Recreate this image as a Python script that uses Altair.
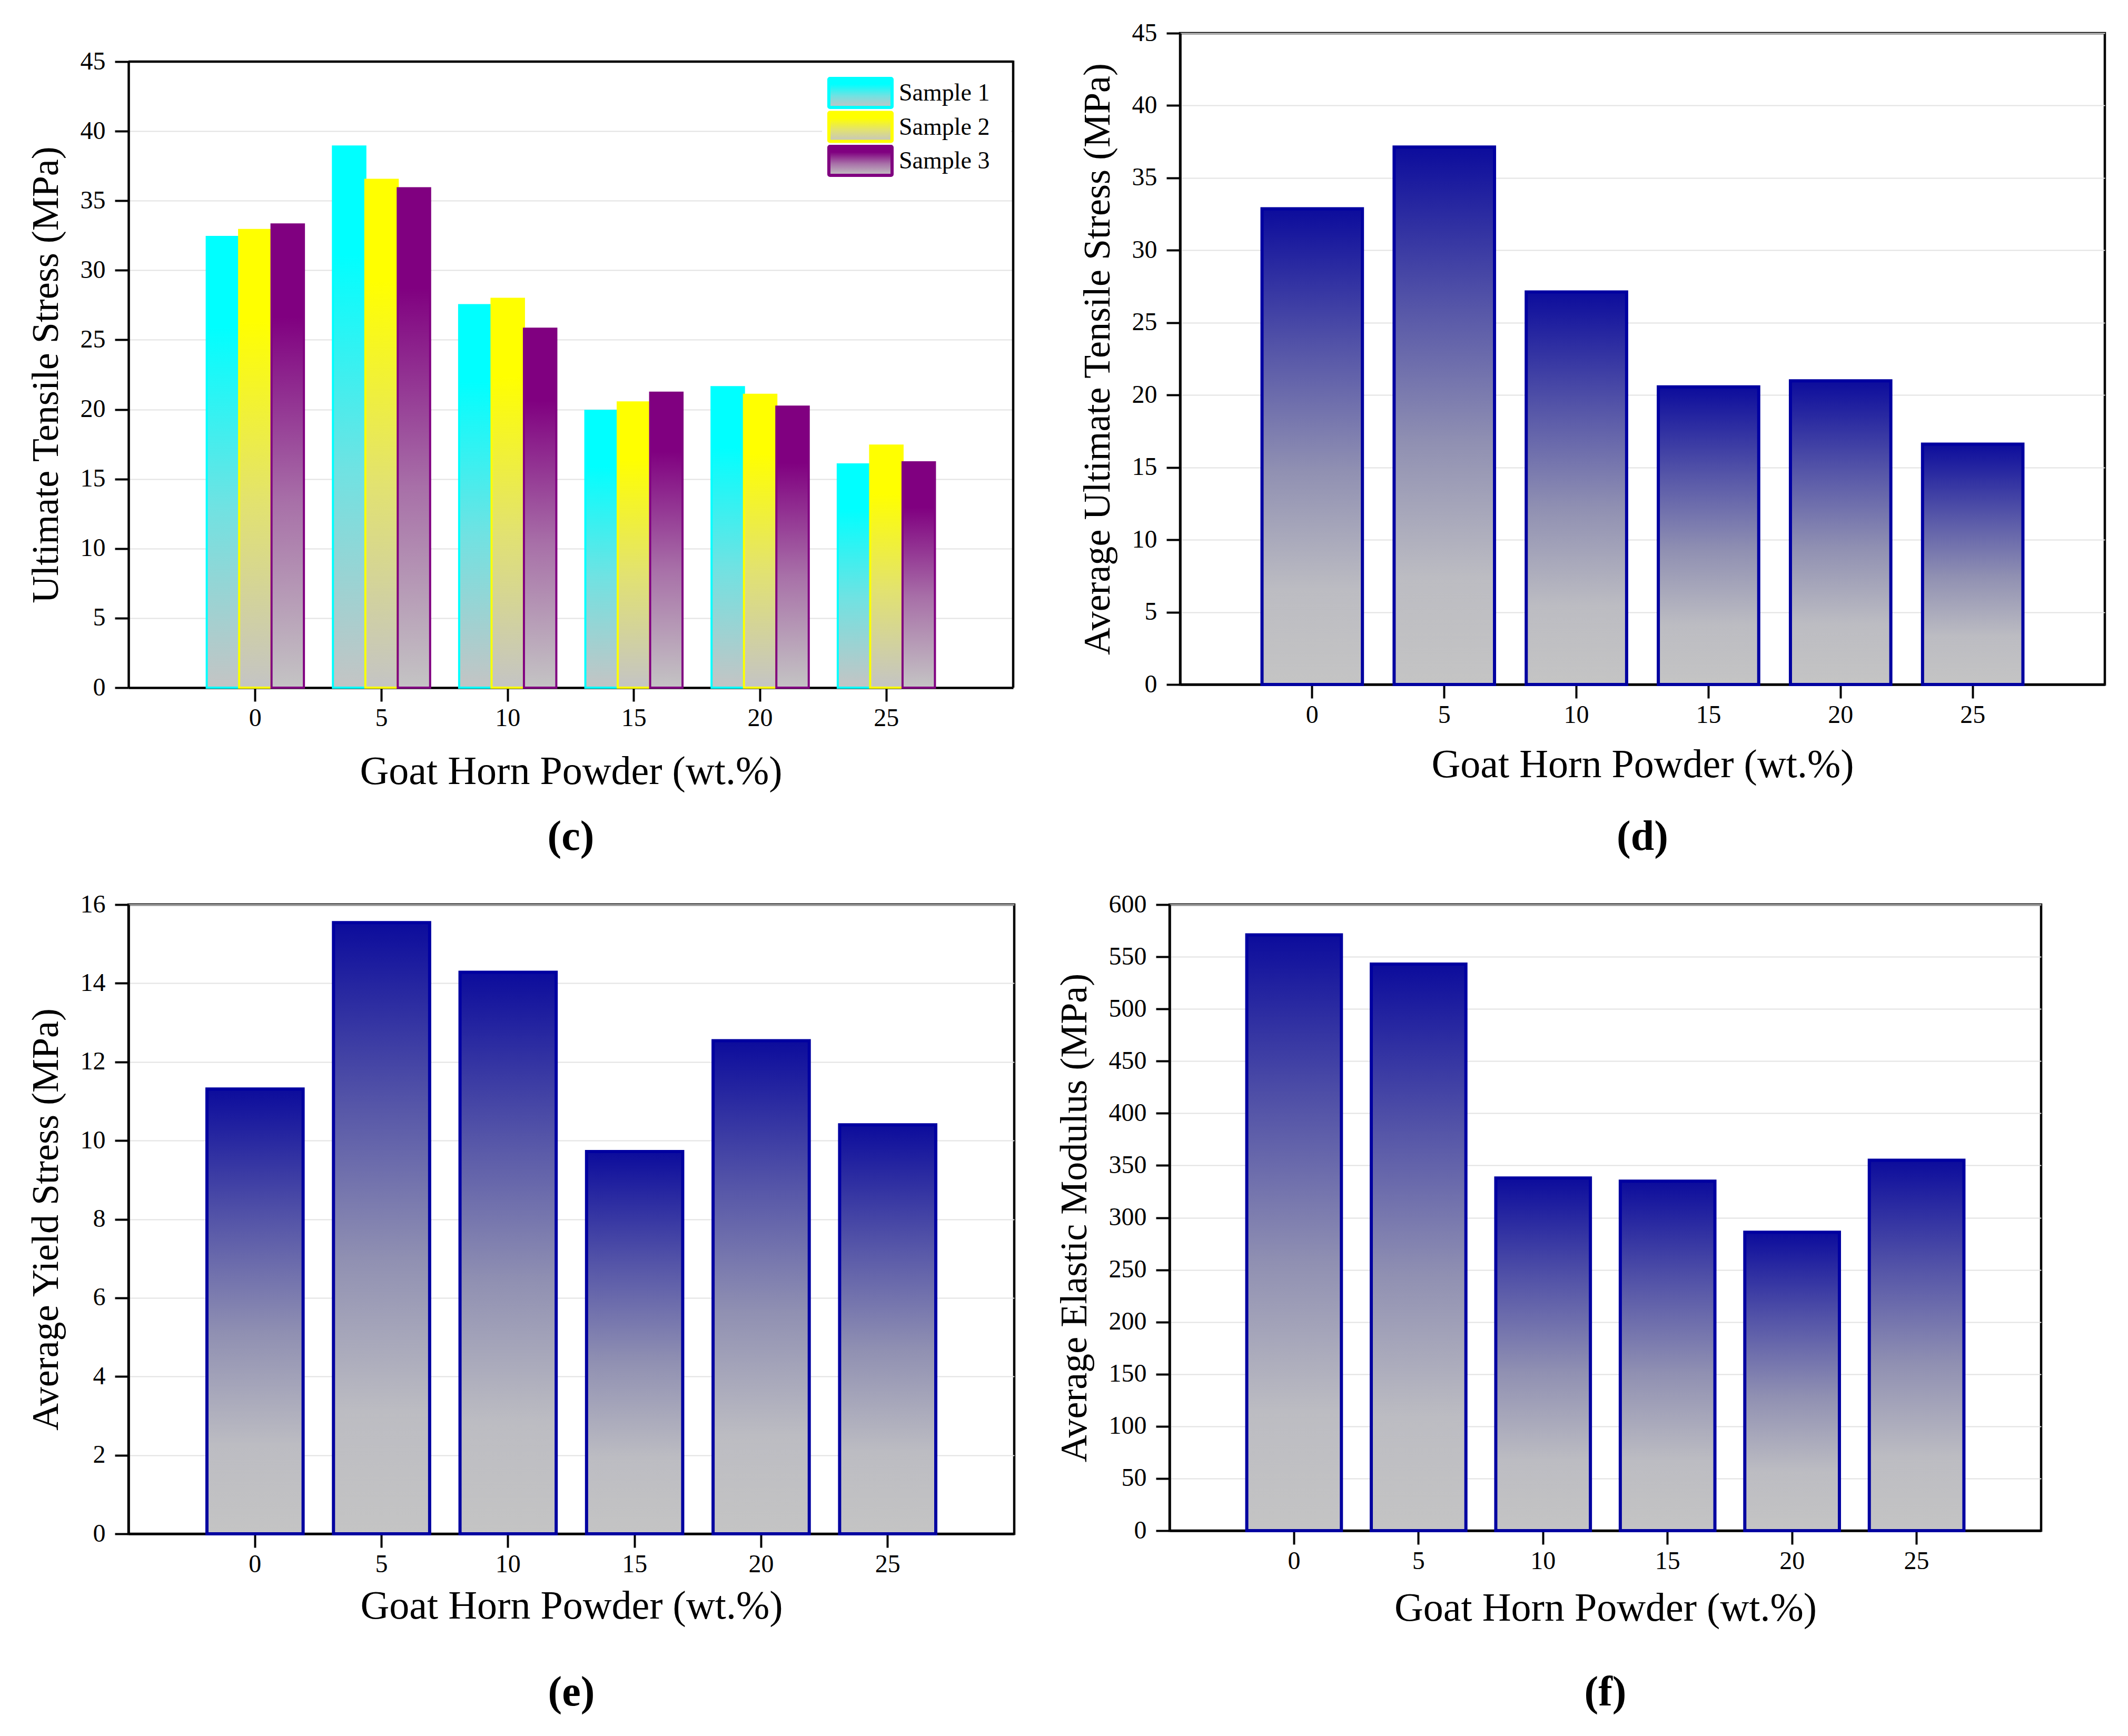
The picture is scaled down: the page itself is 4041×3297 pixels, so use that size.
import altair as alt
import pandas as pd

# ---------------- data ----------------
wt_levels = [0, 5, 10, 15, 20, 25]
sample_names = ["Sample 1", "Sample 2", "Sample 3"]
sample1_uts = [32.4, 38.9, 27.5, 19.9, 21.6, 16.05]
sample2_uts = [32.9, 36.5, 27.95, 20.5, 21.05, 17.4]
sample3_uts = [33.3, 35.9, 25.8, 21.2, 20.2, 16.2]
avg_uts = [32.87, 37.13, 27.12, 20.56, 20.98, 16.61]
avg_yield = [11.31, 15.54, 14.28, 9.72, 12.54, 10.4]
avg_modulus = [571, 543, 338, 335, 286, 355]

sample_colors = ["#00ffff", "#ffff00", "#800080"]
sample_mids = ["#70e2e2", "#e2e270", "#a870a8"]

X_TITLE = "Goat Horn Powder (wt.%)"
FONT = "Liberation Serif"
GRAY = "#c4c4c4"


def grad(stops):
    return alt.Gradient(
        gradient="linear", x1=0, x2=0, y1=0, y2=1,
        stops=[alt.GradientStop(offset=o, color=c) for o, c in stops],
    )


BLUE_GRAD = grad([(0, "#0c0c9c"), (0.3, "#5656a8"), (0.55, "#9090b2"),
                  (0.8, "#bcbcc2"), (1, GRAY)])


def sample_grad(top, mid):
    return grad([(0, top), (0.2, top), (0.6, mid), (1, GRAY)])


# ---------------- panel (c) ----------------
rows = []
for name, vals in zip(sample_names, [sample1_uts, sample2_uts, sample3_uts]):
    for w, v in zip(wt_levels, vals):
        rows.append({"wt": w, "sample": name, "value": v})
df_c = pd.DataFrame(rows)
df_s = pd.DataFrame({"sample": sample_names})

TOP_C = 54                      # panel (c) starts lower than panel (d)
W_C, H_C = 1680, 1189 + TOP_C
x_scale_c = alt.Scale(paddingInner=0.23, paddingOuter=0.62)
off_scale = alt.Scale(domain=sample_names, paddingInner=0, paddingOuter=0)
y_scale_c = alt.Scale(domain=[0, 45], nice=False, rangeMax=TOP_C)


def first_row(ch, name):
    return ch.transform_filter(alt.FieldEqualPredicate(field="sample", equal=name))


layers = []
for name, col, mid in zip(sample_names, sample_colors, sample_mids):
    layers.append(
        first_row(alt.Chart(df_c), name)
        .mark_bar(fill=sample_grad(col, mid), stroke=col, strokeWidth=4)
        .encode(
            x=alt.X("wt:O", scale=x_scale_c, axis=alt.Axis(title=X_TITLE, titlePadding=40)),
            xOffset=alt.XOffset("sample:N", scale=off_scale),
            y=alt.Y("value:Q", scale=y_scale_c,
                    axis=alt.Axis(title="Ultimate Tensile Stress (MPa)",
                                  values=list(range(0, 46, 5)))),
        )
    )

# frame (top and right edges) of panel (c)
layers.append(
    first_row(alt.Chart(df_s), sample_names[0])
    .mark_rule(color="black", strokeWidth=4.5)
    .encode(x=alt.value(0), x2=alt.value(W_C), y=alt.value(TOP_C))
)
layers.append(
    first_row(alt.Chart(df_s), sample_names[0])
    .mark_rule(color="black", strokeWidth=4.5)
    .encode(x=alt.value(W_C), y=alt.value(TOP_C - 2), y2=alt.value(H_C))
)

# legend (drawn inside the plot, top-right)
layers.append(
    first_row(alt.Chart(df_s), sample_names[0])
    .mark_rect(fill="white")
    .encode(x=alt.value(1317), x2=alt.value(W_C - 4),
            y=alt.value(TOP_C + 5), y2=alt.value(TOP_C + 236))
)
for i, (name, col, mid) in enumerate(zip(sample_names, sample_colors, sample_mids)):
    y0 = TOP_C + 32 + 64.5 * i
    layers.append(
        first_row(alt.Chart(df_s), name)
        .mark_rect(fill=sample_grad(col, mid), stroke=col, strokeWidth=6, cornerRadius=2)
        .encode(x=alt.value(1330), x2=alt.value(1450), y=alt.value(y0), y2=alt.value(y0 + 55))
    )
    layers.append(
        first_row(alt.Chart(df_s), name)
        .mark_text(align="left", baseline="middle", font=FONT, fontSize=46, color="black")
        .encode(x=alt.value(1463), y=alt.value(y0 + 28), text="sample:N")
    )

chart_c = alt.layer(*layers).properties(
    width=W_C, height=H_C,
    view=alt.ViewBackground(stroke="transparent"),
    title=alt.TitleParams("(c)", orient="bottom", offset=48),
)


# ---------------- single-series panels ----------------
def single_panel(values, ytitle, ymax, ystep, width, height, label, xpad, toff):
    df = pd.DataFrame({"wt": wt_levels, "value": values})
    return (
        alt.Chart(df)
        .mark_bar(fill=BLUE_GRAD, stroke="#0000a0", strokeWidth=6)
        .encode(
            x=alt.X("wt:O", scale=alt.Scale(paddingInner=0.24, paddingOuter=0.62),
                    axis=alt.Axis(title=X_TITLE, titlePadding=xpad)),
            y=alt.Y("value:Q", scale=alt.Scale(domain=[0, ymax], nice=False),
                    axis=alt.Axis(title=ytitle, values=list(range(0, ymax + 1, ystep)))),
        )
        .properties(width=width, height=height,
                    title=alt.TitleParams(label, orient="bottom", offset=toff))
    )


chart_d = single_panel(avg_uts, "Average Ultimate Tensile Stress (MPa)", 45, 5,
                       1756, 1237, "(d)", 33, 61)
chart_e = single_panel(avg_yield, "Average Yield Stress (MPa)", 16, 2,
                       1682, 1195, "(e)", 18, 88)
chart_f = single_panel(avg_modulus, "Average Elastic Modulus (MPa)", 600, 50,
                       1655, 1189, "(f)", 28, 84)

row1 = alt.hconcat(chart_c, chart_d, spacing=116)
row2 = alt.hconcat(chart_e, chart_f, spacing=72)

chart = (
    alt.vconcat(row1, row2, spacing=58)
    .properties(padding={"left": 40, "top": 28, "right": 5, "bottom": 5})
    .configure(background="white")
    .configure_view(stroke="black", strokeWidth=4.5)
    .configure_axis(
        domainColor="black", domainWidth=4.5, tickColor="black", tickWidth=4, tickSize=26,
        labelFont=FONT, labelFontSize=48, labelColor="black",
        titleFont=FONT, titleFontWeight="normal", titleColor="black",
        gridColor="#e2e2e2", gridWidth=2,
    )
    .configure_axisX(labelAngle=0, grid=False, labelPadding=8, titleFontSize=76)
    .configure_axisY(grid=True, labelPadding=18, titleFontSize=72, titlePadding=28)
    .configure_title(font=FONT, fontSize=80, fontWeight="bold", color="black")
)

chart.save("out.html", embed_options={"renderer": "svg", "actions": False})
